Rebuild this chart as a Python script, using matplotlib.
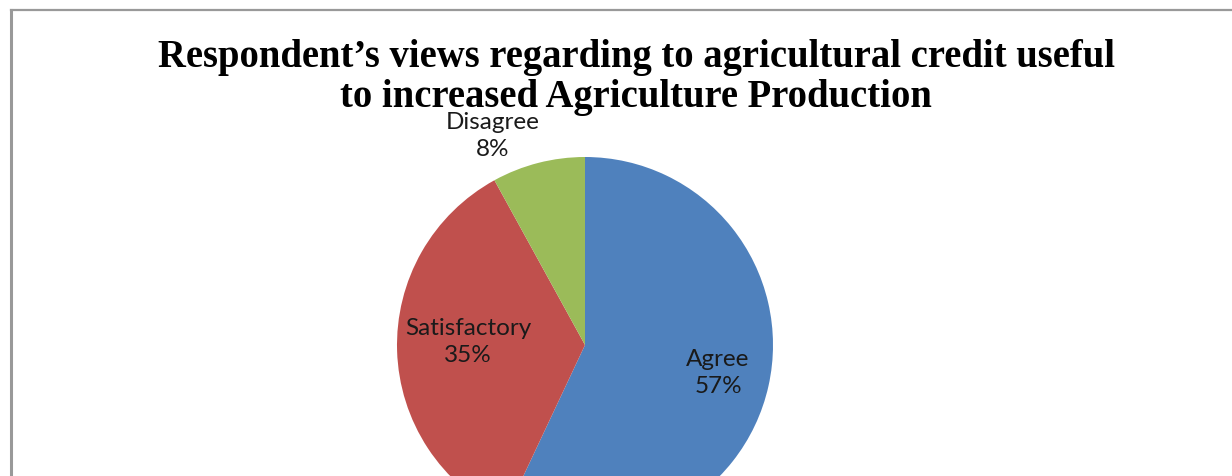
import matplotlib
matplotlib.use("Agg")
import matplotlib.pyplot as plt
from matplotlib.lines import Line2D

categories = ["Agree", "Satisfactory", "Disagree"]
values = [57, 35, 8]
colors = ["#4F81BD", "#C0504D", "#9BBB59"]
title_lines = ["Respondent\u2019s views regarding to agricultural credit useful",
               "to increased Agriculture Production"]

W, H = 1232, 476
fig = plt.figure(figsize=(W / 100, H / 100), dpi=100)
ax = fig.add_axes([0, 0, 1, 1])

cx, cy, r = 585, H - 345, 188
wedges, _ = ax.pie(values, colors=colors, startangle=90, counterclock=False,
                   center=(cx, cy), radius=r, frame=True)
ax.set_xlim(0, W)
ax.set_ylim(0, H)
ax.set_aspect("equal")
ax.axis("off")
for w in wedges:
    w.set_clip_on(True)

lab_font = dict(family=["Lato", "DejaVu Sans"], fontsize=17.5, color="#1a1a1a",
                ha="center", va="center", linespacing=1.32)
label_pos = {"Agree": (718, 373), "Satisfactory": (468, 342), "Disagree": (493, 136)}
for c, v in zip(categories, values):
    x, y = label_pos[c]
    ax.text(x, H - y, f"{c}\n{v}%", **lab_font)

ax.text(636, H - 57, title_lines[0], family="Liberation Serif", fontweight="bold",
        fontsize=27.8, ha="center", va="center")
ax.text(636, H - 97, title_lines[1], family="Liberation Serif", fontweight="bold",
        fontsize=27.8, ha="center", va="center")

border = "#999999"
ax.add_line(Line2D([11, W + 5], [H - 10, H - 10], color=border, lw=1.6, clip_on=False))
ax.add_line(Line2D([11, 11], [H - 10, -5], color=border, lw=2.2, clip_on=False))

fig.savefig("out.png", dpi=100)
